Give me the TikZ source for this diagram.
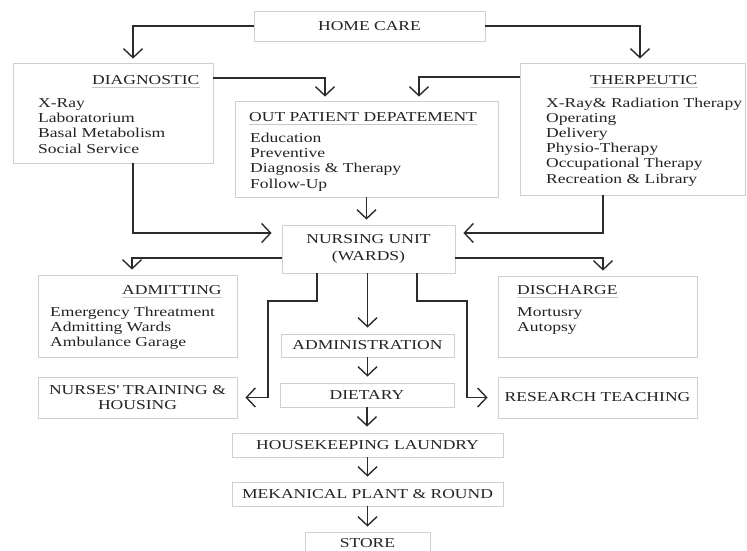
\documentclass[tikz,border=0pt]{standalone}
\usepackage{fontspec}
\setmainfont{Liberation Serif}[FakeStretch=1.29]
\usetikzlibrary{arrows.meta}
\definecolor{boxgray}{HTML}{CFCFCF}
\definecolor{arrgray}{HTML}{2B2B2B}
\definecolor{txtgray}{HTML}{222222}
\definecolor{ulgray}{HTML}{C8C8C8}
\tikzset{
  box/.style = {draw = boxgray, line width = 0.8pt, inner sep = 0pt, text = txtgray, align = center},
  lbl/.style = {text = txtgray, inner sep = 0pt, anchor = base west},
  uline/.style = {draw = ulgray, line width = 0.6pt},
  arr/.style = {draw = arrgray, line width = 1.4pt, shorten >= 4pt, -{Straight Barb[length = 9pt, width = 19pt]}}
}
\begin{document}
\begin{tikzpicture}[x = 1pt, y = -1pt, font = \fontsize{13.6}{15.2}\selectfont]
            \useasboundingbox (0, 0) rectangle (747, 550);
            \clip (0, 0) rectangle (747, 550);
            % boxes
            \node [box, minimum width = 231pt, minimum height = 30pt] (home) at (369.5, 26) {HOME CARE};
            \node [box, minimum width = 200pt, minimum height = 100pt] (diag) at (113, 113) {};
            \node [box, minimum width = 263pt, minimum height = 96pt] (opd) at (366.5, 149) {};
            \node [box, minimum width = 225pt, minimum height = 132pt] (ther) at (632.5, 129) {};
            \node [box, minimum width = 173pt, minimum height = 48pt] (nurs) at (368.5, 249) {NURSING UNIT\\[1pt](WARDS)};
            \node [box, minimum width = 199pt, minimum height = 82pt] (adm) at (137.5, 316) {};
            \node [box, minimum width = 199pt, minimum height = 81pt] (dis) at (597.5, 316.5) {};
            \node [box, minimum width = 173pt, minimum height = 23pt] (admin) at (367.5, 345.5) {ADMINISTRATION};
            \node [box, minimum width = 174pt, minimum height = 24pt] (diet) at (367, 395) {DIETARY};
            \node [box, minimum width = 199pt, minimum height = 41pt] (nurse) at (137.5, 397.5) {NURSES\textquotesingle{} TRAINING \&\\HOUSING};
            \node [box, minimum width = 199pt, minimum height = 41pt] (res) at (597.5, 397.5) {RESEARCH TEACHING};
            \node [box, minimum width = 271pt, minimum height = 24pt] (house) at (367.5, 445) {HOUSEKEEPING LAUNDRY};
            \node [box, minimum width = 271pt, minimum height = 24pt] (mek) at (367.5, 494) {MEKANICAL PLANT \& ROUND};
            \node [box, minimum width = 125pt, minimum height = 22pt] (store) at (367.5, 543) {STORE};
            % texts in the big boxes
            \node [lbl] (diagt) at (92, 84) {DIAGNOSTIC};
            \node [lbl] (diag1) at (38, 107) {X-Ray};
            \node [lbl] (diag2) at (38, 122) {Laboratorium};
            \node [lbl] (diag3) at (38, 137) {Basal Metabolism};
            \node [lbl] (diag4) at (38, 153) {Social Service};
            \node [lbl] (opdt) at (249, 121) {OUT PATIENT DEPATEMENT};
            \node [lbl] (opd1) at (250, 142) {Education};
            \node [lbl] (opd2) at (250, 157) {Preventive};
            \node [lbl] (opd3) at (250, 172) {Diagnosis \& Therapy};
            \node [lbl] (opd4) at (250, 188) {Follow-Up};
            \node [lbl] (thert) at (590, 84) {THERPEUTIC};
            \node [lbl] (ther1) at (546, 107) {X-Ray\& Radiation Therapy};
            \node [lbl] (ther2) at (546, 122) {Operating};
            \node [lbl] (ther3) at (546, 137) {Delivery};
            \node [lbl] (ther4) at (546, 152) {Physio-Therapy};
            \node [lbl] (ther5) at (546, 167) {Occupational Therapy};
            \node [lbl] (ther6) at (546, 183) {Recreation \& Library};
            \node [lbl] (admt) at (122, 294) {ADMITTING};
            \node [lbl] (adm1) at (50, 316) {Emergency Threatment};
            \node [lbl] (adm2) at (50, 331) {Admitting Wards};
            \node [lbl] (adm3) at (50, 346) {Ambulance Garage};
            \node [lbl] (dist) at (517, 294) {DISCHARGE};
            \node [lbl] (dis1) at (517, 316) {Mortusry};
            \node [lbl] (dis2) at (517, 331) {Autopsy};
            \draw [uline] ([yshift = -3pt] diagt.base west) -- ([yshift = -3pt] diagt.base east);
            \draw [uline] ([yshift = -3pt] opdt.base west) -- ([yshift = -3pt] opdt.base east);
            \draw [uline] ([yshift = -3pt] thert.base west) -- ([yshift = -3pt] thert.base east);
            \draw [uline] ([yshift = -3pt] admt.base west) -- ([yshift = -3pt] admt.base east);
            \draw [uline] ([yshift = -3pt] dist.base west) -- ([yshift = -3pt] dist.base east);
            % connectors
            \draw [arr] (home.west) -| ([xshift = 20pt] diag.north);
            \draw [arr] (home.east) -| ([xshift = 7.5pt] ther.north);
            \draw [arr] ([yshift = 35pt] diag.east) -| ([xshift = -41.5pt] opd.north);
            \draw [arr] ([yshift = 52pt] ther.west) -| ([xshift = 52.5pt] opd.north);
            \draw [arr, shorten >= 5pt] (opd.south) -- (opd.south |- nurs.north);
            \draw [arr, shorten >= 10pt] ([xshift = 20pt] diag.south) |- ([yshift = 16pt] nurs.west);
            \draw [arr, shorten >= 8pt] ([xshift = -29.5pt] ther.south) |- ([yshift = 16pt] nurs.east);
            \draw [arr, shorten >= 5pt] ([yshift = -9pt] nurs.west) -| ([xshift = -5.5pt] adm.north);
            \draw [arr, shorten >= 5pt] ([yshift = -9pt] nurs.east) -| ([xshift = 5.5pt] dis.north);
            \draw [arr, shorten >= 6pt] (nurs.south -| admin.north) -- (admin.north);
            \draw [arr, shorten >= 6pt] (admin.south) -- (admin.south |- diet.north);
            \draw [arr, shorten >= 6pt] (diet.south) -- (diet.south |- house.north);
            \draw [arr, shorten >= 5pt] (house.south) -- (mek.north);
            \draw [arr, shorten >= 5pt] (mek.south) -- (store.north);
            \coordinate (lbend) at (268, 301);
            \coordinate (rbend) at (467, 301);
            \draw [arr, shorten >= 8pt] ([xshift = -51.5pt] nurs.south) |- (lbend) |- (nurse.east);
            \draw [arr, shorten >= 10pt] ([xshift = 48.5pt] nurs.south) |- (rbend) |- (res.west);
\end{tikzpicture}
\end{document}
